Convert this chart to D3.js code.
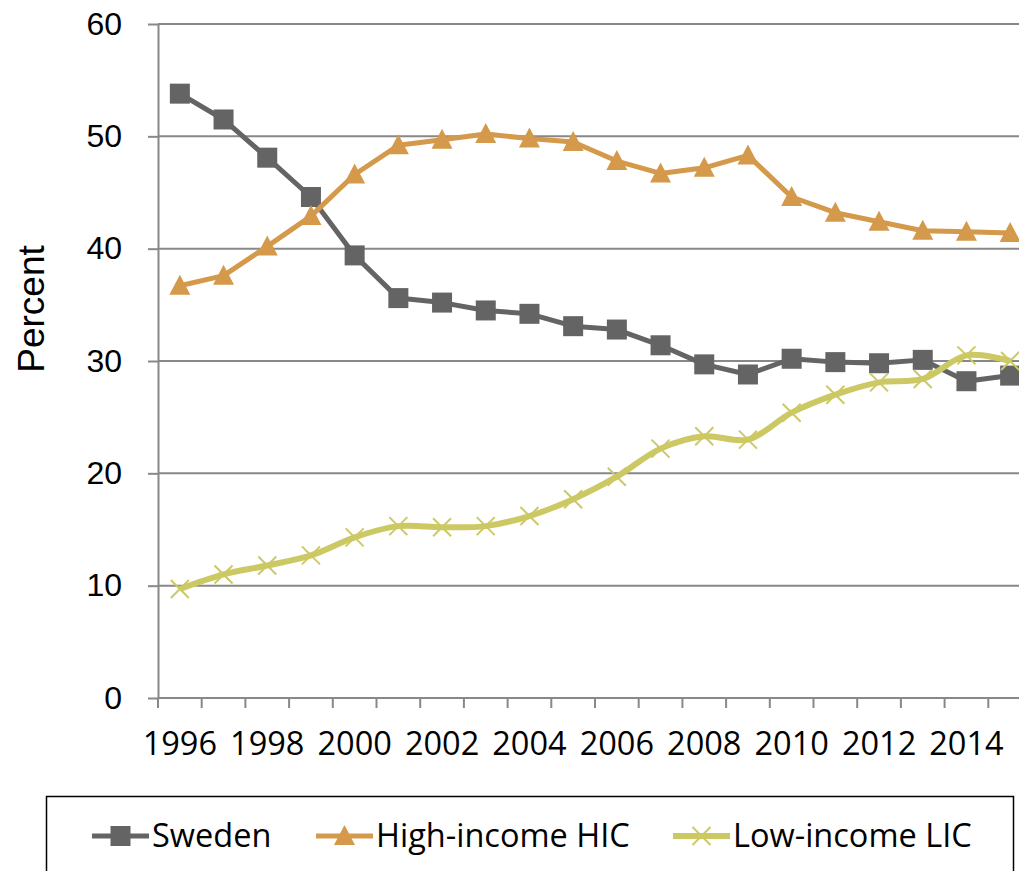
<!DOCTYPE html>
<html>
<head>
<meta charset="utf-8">
<script src="https://cdn.jsdelivr.net/npm/d3@7"></script>
<style>
  html, body { margin: 0; padding: 0; background: #fff; }
  svg { display: block; }
</style>
</head>
<body>
<div id="chart"></div>
<script>
// Sizing
const svgWidth = 1019,
  svgHeight = 871;
const plotLeft = 158, plotTop = 24, plotBottom = 698;
const bandStep = 43.7;

// Colouring
const gridColor = "#888888";
const textColor = "#000000";

// Content
const years = d3.range(1996, 2016);
const yTicks = [0, 10, 20, 30, 40, 50, 60];
const seriesNames = ["Sweden", "High-income HIC", "Low-income LIC"];
const sweden = [53.8, 51.5, 48.1, 44.6, 39.4, 35.6, 35.2, 34.5, 34.2, 33.1,
  32.8, 31.4, 29.7, 28.8, 30.2, 29.9, 29.8, 30.1, 28.2, 28.7];
const highIncome = [36.7, 37.6, 40.2, 42.9, 46.6, 49.2, 49.7, 50.2, 49.8, 49.5,
  47.8, 46.7, 47.2, 48.3, 44.6, 43.2, 42.4, 41.6, 41.5, 41.4];
const lowIncome = [9.7, 11.0, 11.8, 12.7, 14.3, 15.3, 15.2, 15.3, 16.2, 17.7,
  19.7, 22.2, 23.3, 23.0, 25.4, 27.0, 28.1, 28.4, 30.5, 30.0];

const colors = ["#646464", "#D4994A", "#CCC965"];
const series = [sweden, highIncome, lowIncome];

/** Create SVG */
var svg = d3.select("#chart")
  .append("svg")
  .attr("width", svgWidth)
  .attr("height", svgHeight);

/** Scales */
var x = d3.scaleBand()
  .domain(years)
  .range([plotLeft, plotLeft + bandStep * years.length]);
var y = d3.scaleLinear()
  .domain([0, 60])
  .range([plotBottom, plotTop]);
var cx = (d) => x(d) + x.bandwidth() / 2;

// gridlines
svg.append("g").classed("grid", true)
  .selectAll("line")
  .data(yTicks.filter((t) => t > 0))
  .enter().append("line")
  .attr("x1", plotLeft)
  .attr("x2", svgWidth)
  .attr("y1", (d) => y(d))
  .attr("y2", (d) => y(d))
  .style("stroke", gridColor)
  .style("stroke-width", 2);

/** Y-Axis */
var yAxis = svg.append("g").classed("axis", true)
  .attr("transform", "translate(" + plotLeft + ",0)")
  .call(d3.axisLeft(y).tickValues(yTicks).tickSize(10).tickPadding(26).tickSizeOuter(0));
yAxis.selectAll("text")
  .style("font-family", "'Liberation Sans', Arial, sans-serif")
  .style("font-size", "32px");

/** X-Axis */
var xAxis = svg.append("g").classed("axis", true)
  .attr("transform", "translate(0," + plotBottom + ")")
  .call(d3.axisBottom(x)
    .tickValues(years.filter((d) => d % 2 === 0))
    .tickSize(0)
    .tickPadding(34)
    .tickSizeOuter(0));
xAxis.selectAll("text")
  .style("font-family", "'Open Sans', sans-serif")
  .style("font-size", "32.5px");
xAxis.select("path").remove();
// category boundary ticks
xAxis.selectAll(".bound")
  .data(years)
  .enter().append("line")
  .attr("x1", (d) => x(d))
  .attr("x2", (d) => x(d))
  .attr("y1", 0)
  .attr("y2", 10);
xAxis.append("line")
  .attr("x1", plotLeft).attr("x2", svgWidth)
  .attr("y1", 0).attr("y2", 0);

//styling
svg.selectAll(".axis").select("path").style("stroke", gridColor).style("stroke-width", 2);
svg.selectAll(".axis").selectAll("line").style("stroke", gridColor).style("stroke-width", 2);
svg.selectAll(".axis").selectAll("text").style("fill", textColor);

// axis title
svg.append("text")
  .attr("transform", "translate(44,309) rotate(-90)")
  .attr("text-anchor", "middle")
  .style("font-family", "'Liberation Sans', Arial, sans-serif")
  .style("font-size", "37px")
  .attr("fill", textColor)
  .text("Percent");

/** Markers */
var square = (g, color) => g.append("rect")
  .attr("x", -10).attr("y", -10).attr("width", 20).attr("height", 20)
  .style("fill", color);
var triangle = (g, color) => g.append("path")
  .attr("d", "M0,-11L10.5,9L-10.5,9Z")
  .style("fill", color);
var cross = (g, color) => g.append("path")
  .attr("d", "M-9,-9L9,9M-9,9L9,-9")
  .style("stroke", color)
  .style("stroke-width", 2)
  .style("fill", "none");
const markers = [square, triangle, cross];
const curves = [d3.curveLinear, d3.curveLinear, d3.curveCatmullRom.alpha(0.5)];
const widths = [5, 5, 6];

var plot = svg.append("g").classed("lines", true);

series.forEach((vals, i) => {
  var pts = years.map((yr, j) => ({ year: yr, value: vals[j] }));
  var line = d3.line()
    .x((d) => cx(d.year))
    .y((d) => y(d.value))
    .curve(curves[i]);
  plot.append("path")
    .datum(pts)
    .attr("d", line)
    .style("fill", "none")
    .style("stroke", colors[i])
    .style("stroke-width", widths[i])
    .style("stroke-linejoin", "round");
  var g = plot.append("g")
    .selectAll("g")
    .data(pts)
    .enter().append("g")
    .attr("transform", (d) => "translate(" + cx(d.year) + "," + y(d.value) + ")");
  markers[i](g, colors[i]);
});

/** Legend */
var legend = svg.append("g").classed("legend", true);
legend.append("rect")
  .attr("x", 46.5).attr("y", 796.5)
  .attr("width", 967).attr("height", 120)
  .style("fill", "none")
  .style("stroke", "#000")
  .style("stroke-width", 1.5);

const legendX = [92, 316, 673];
var item = legend.selectAll(".item")
  .data(seriesNames)
  .enter().append("g")
  .attr("transform", (d, i) => "translate(" + legendX[i] + ",836)");
item.append("line")
  .attr("x1", 0).attr("x2", 57)
  .style("stroke", (d, i) => colors[i])
  .style("stroke-width", (d, i) => widths[i]);
item.each(function (d, i) {
  var m = d3.select(this).append("g").attr("transform", "translate(28.5,0)");
  markers[i](m, colors[i]);
});
item.append("text")
  .attr("x", 60)
  .attr("dy", "0.35em")
  .style("font-family", "'Open Sans', sans-serif")
  .style("font-size", "32.5px")
  .attr("fill", textColor)
  .text((d) => d);
</script>
</body>
</html>
